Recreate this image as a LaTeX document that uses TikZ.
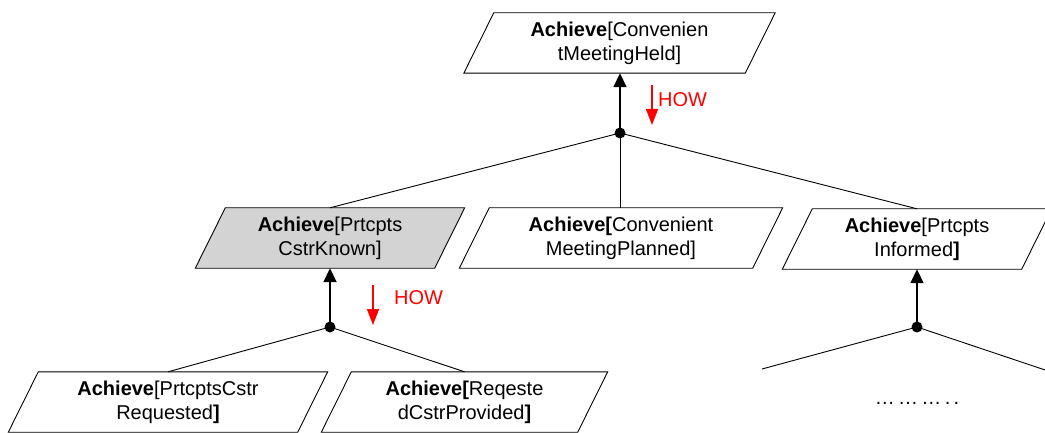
\documentclass[tikz,border=0pt]{standalone}
\usepackage{fontspec}
\setmainfont{Liberation Sans}
\usetikzlibrary{arrows.meta}
\definecolor{goalgray}{RGB}{211,211,211}
\newcommand\pgram[2][white]{\filldraw[fill=#1, line width=0.9pt]
  ([xshift=15pt]#2.north west) -- ([xshift=15pt]#2.north east) --
  ([xshift=-15pt]#2.south east) -- ([xshift=-15pt]#2.south west) -- cycle;}
\tikzset{
  goal/.style={minimum width=#1, minimum height=60pt, inner sep=0pt,
    align=center, font=\fontsize{20}{24}\selectfont},
  thin link/.style={line width=0.9pt},
  refine/.style={line width=1.8pt, -{Triangle[width=13pt,length=14pt]}},
  how/.style={red, line width=1.5pt, -{Triangle[width=12pt,length=16pt]}},
  howtext/.style={red, anchor=west, inner sep=0pt, font=\fontsize{20}{24}\selectfont},
  andpt/.style={circle, fill=black, inner sep=0pt, minimum size=11pt},
}
\begin{document}
\begin{tikzpicture}[x=1pt,y=-1pt]
\useasboundingbox (0,0) rectangle (1045,433);
\clip (0,0) rectangle (1045,433);
% goal node boxes (text drawn after the shapes)
\node[goal=281pt] (top) at (619.5,43) {};
\node[goal=239pt] (known) at (330,238) {};
\node[goal=293pt] (planned) at (621,238) {};
\node[goal=239pt] (informed) at (917,239) {};
\node[goal=289pt] (requested) at (168,402) {};
\node[goal=256pt] (provided) at (464.5,402) {};
\pgram{top}
\pgram[goalgray]{known}
\pgram{planned}
\pgram{informed}
\pgram{requested}
\pgram{provided}
\node[goal=281pt] (topt) at (top) {\textbf{Achieve}[Convenien\\tMeetingHeld]};
\node[goal=239pt] (knownt) at (known) {\textbf{Achieve}[Prtcpts\\CstrKnown]};
\node[goal=293pt] (plannedt) at (planned) {\textbf{Achieve[}Convenient\\MeetingPlanned]};
\node[goal=239pt] (informedt) at (informed) {\textbf{Achieve}[Prtcpts\\Informed\textbf{]}};
\node[goal=289pt] (requestedt) at (requested) {\textbf{Achieve}[PrtcptsCstr\\Requested\textbf{]}};
\node[goal=256pt] (providedt) at (provided) {\textbf{Achieve[}Reqeste\\dCstrProvided\textbf{]}};
% AND points
\node[andpt] (a1) at (620,133) {};
\node[andpt] (a2) at (330,327) {};
\node[andpt] (a3) at (917,327) {};
\coordinate (c1) at (762,369);
\coordinate (c2) at (1060,375);
% refinement links
\draw[refine] (a1.center) -- (a1.center |- top.south);
\draw[thin link] (a1.center) -- (known.north);
\draw[thin link] (a1.center) -- (planned.north -| a1.center);
\draw[thin link] (a1.center) -- (informed.north);
\draw[refine] (a2.center) -- (known.south);
\draw[thin link] (a2.center) -- (requested.north);
\draw[thin link] (a2.center) -- (provided.north);
\draw[refine] (a3.center) -- (informed.south);
\draw[thin link] (a3.center) -- (c1);
\draw[thin link] (a3.center) -- (c2);
% HOW arrows
\coordinate (h1s) at (652,85); \coordinate (h1e) at (652,125);
\draw[how] (h1s) -- (h1e);
\node[howtext] (how1) at (658,100) {HOW};
\coordinate (h2s) at (373,285); \coordinate (h2e) at (373,325);
\draw[how] (h2s) -- (h2e);
\node[howtext] (how2) at (394,298) {HOW};
% ellipsis
\node[anchor=base, inner sep=0pt, font=\fontsize{20}{24}\selectfont] (more) at (917,404) {…\,…\,…\,.\,.};
\end{tikzpicture}
\end{document}
